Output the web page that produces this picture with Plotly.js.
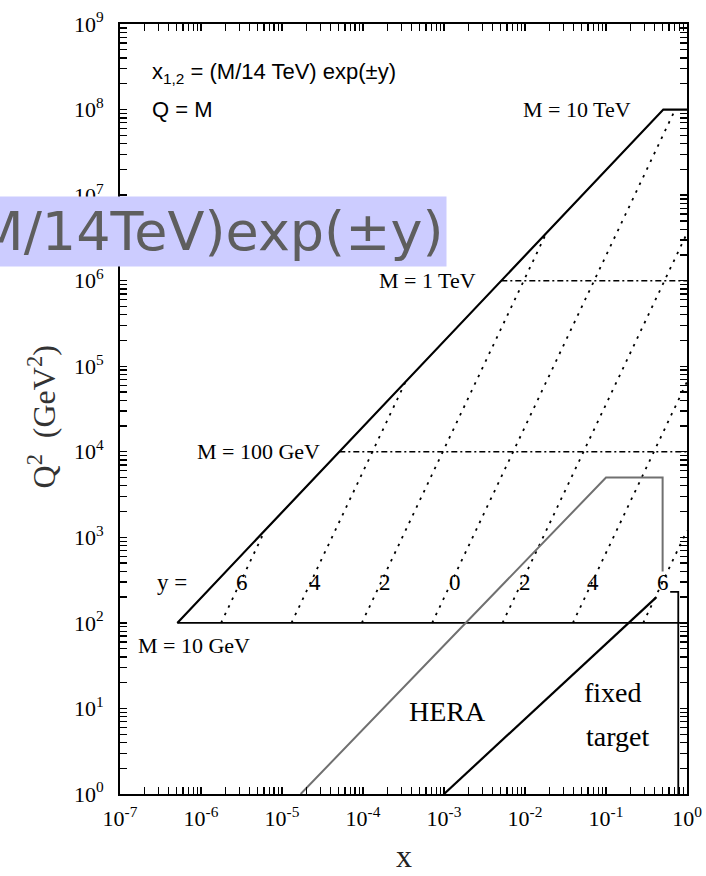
<!DOCTYPE html>
<html>
<head>
<meta charset="utf-8">
<script src="https://cdn.plot.ly/plotly-3.0.1.min.js"></script>
<style>html,body{margin:0;padding:0;background:#fff;}</style>
</head>
<body>
<div id="chart" style="width:706px;height:876px;"></div>
<script>
// LHC parton kinematics: x1,2 = (M/14 TeV) exp(±y), Q = M

// axis decades (powers of ten)
const xTickPowers = [-7, -6, -5, -4, -3, -2, -1, 0];
const qTickPowers = [0, 1, 2, 3, 4, 5, 6, 7, 8, 9];
// minor tick mantissas inside each decade
const minorMantissas = [2, 3, 4, 5, 6, 7, 8, 9];

// kinematic limit x = M^2/s, capped at M = 10 TeV
const limitX  = [5.1e-7, 0.51, 1];
const limitQ2 = [1e2, 1e8, 1e8];

// M = 10 GeV floor
const floorX  = [5.1e-7, 1];
const floorQ2 = [1e2, 1e2];

// dash-dot lines of constant mass (M = 100 GeV, M = 1 TeV)
const massQ2     = [1e4, 1e6];
const massStartX = [5.1e-5, 5.1e-3];
const massEndX   = [1, 1];

// lines of constant rapidity, from M = 10 GeV up to the kinematic edge
const rapidityLabels = ['6', '4', '2', '0', '2', '4', '6'];
const rapStartX  = [1.77e-6, 1.31e-5, 9.67e-5, 7.14e-4, 5.28e-3, 3.9e-2, 0.288];
const rapStartQ2 = [1e2, 1e2, 1e2, 1e2, 1e2, 1e2, 1e2];
const rapEndX    = [6.15e-6, 3.35e-4, 1.83e-2, 0.714, 1, 1, 1];
const rapEndQ2   = [1205, 6.57e4, 3.59e6, 1e8, 3.59e6, 6.57e4, 1205];

// HERA region outline (grey)
const heraX  = [1.7e-5, 0.1, 0.5, 0.5];
const heraQ2 = [1, 5000, 5000, 400];

// fixed-target region
const fixedX  = [1e-3, 0.42];
const fixedQ2 = [1, 200];
const fixedEdgeX  = [0.62, 0.78, 0.78];
const fixedEdgeQ2 = [230, 230, 1];

const serif = '"Liberation Serif", "Times New Roman", serif';
const sans = '"Liberation Sans", Arial, sans-serif';

function line(x, y, color, width, dash) {
  return {
    type: 'scatter', mode: 'lines', x: x, y: y,
    line: {color: color, width: width, dash: dash || 'solid'},
    hoverinfo: 'skip', showlegend: false
  };
}

const traces = [];
rapStartX.forEach((x0, i) => {
  traces.push(line([x0, rapEndX[i]], [rapStartQ2[i], rapEndQ2[i]], '#000', 1.8, '2.5px,6px'));
});
massQ2.forEach((q, i) => {
  traces.push(line([massStartX[i], massEndX[i]], [q, q], '#000', 1.5, '6px,3px,2px,3px'));
});
traces.push(line(floorX, floorQ2, '#000', 1.6));
traces.push(line(limitX, limitQ2, '#000', 2.2));
traces.push(line(heraX, heraQ2, '#707070', 2));
traces.push(line(fixedX, fixedQ2, '#000', 2.2));
traces.push(line(fixedEdgeX, fixedEdgeQ2, '#000', 1.8));

function label(text, x, y, xanchor, size) {
  return {
    text: text, x: x, y: y, xref: 'x', yref: 'y',
    xanchor: xanchor || 'center', yanchor: 'middle', showarrow: false,
    font: {family: serif, size: size || 22, color: '#000'}
  };
}

const rapLabelX = [-5.49, -4.59, -3.73, -2.86, -2.0, -1.16, -0.30];
const annotations = [
  label('M = 10 TeV', -0.667, 8, 'right'),
  label('M = 1 TeV', -2.58, 6, 'right'),
  label('M = 100 GeV', -4.51, 4, 'right'),
  label('M = 10 GeV', -6.80, 1.74, 'left'),
  label('y =', -6.36, 2.47, 'center', 23),
  label('HERA', -2.96, 0.97, 'center', 28),
  label('fixed', -0.914, 1.19, 'center', 28),
  label('target', -0.852, 0.67, 'center', 28),
  {
    text: 'x<sub>1,2</sub> = (M/14 TeV) exp(±y)', x: -6.63, y: 8.43, xref: 'x', yref: 'y',
    xanchor: 'left', yanchor: 'middle', showarrow: false,
    font: {family: sans, size: 22, color: '#000'}
  },
  {
    text: 'Q = M', x: -6.63, y: 8.0, xref: 'x', yref: 'y',
    xanchor: 'left', yanchor: 'middle', showarrow: false,
    font: {family: sans, size: 22, color: '#000'}
  },
  {
    text: 'Q<sup>2</sup>\u00a0\u00a0(GeV<sup>2</sup>)', x: -0.138, y: 0.49, xref: 'paper', yref: 'paper',
    xanchor: 'center', yanchor: 'middle', textangle: -90, showarrow: false,
    font: {family: serif, size: 32, color: '#333'}
  },
  {
    text: 'x', x: 0.5, y: -0.08, xref: 'paper', yref: 'paper',
    xanchor: 'center', yanchor: 'middle', showarrow: false,
    font: {family: serif, size: 32, color: '#222'}
  },
  {
    text: '(M/14TeV)exp(±y)', x: 0.5767, y: 0.731, xref: 'paper', yref: 'paper',
    xanchor: 'right', yanchor: 'middle', showarrow: false,
    bgcolor: '#ccccff', borderpad: 3,
    font: {family: '"DejaVu Sans", sans-serif', size: 54, color: '#5e5e5e'}
  }
];
rapidityLabels.forEach((t, i) => annotations.push(label(t, rapLabelX[i], 2.47, 'center', 23)));

// log axis with a tick at every 1..9 step of each decade, labels only at the decades
function logAxis(powers) {
  const vals = [], text = [];
  powers.forEach((p, k) => {
    vals.push(Math.pow(10, p));
    text.push('10<sup>' + p + '</sup>');
    if (k < powers.length - 1) {
      minorMantissas.forEach(m => { vals.push(m * Math.pow(10, p)); text.push(''); });
    }
  });
  return {
    type: 'log',
    range: [powers[0], powers[powers.length - 1]],
    tickmode: 'array', tickvals: vals, ticktext: text,
    ticks: 'inside', ticklen: 7, tickwidth: 1.3, tickcolor: '#000',
    showline: true, linewidth: 2, linecolor: '#000', mirror: 'allticks',
    showgrid: false, zeroline: false,
    tickfont: {family: serif, size: 22, color: '#000'}
  };
}

const xaxis = logAxis(xTickPowers);
xaxis.ticklabelstandoff = 4;
const yaxis = logAxis(qTickPowers);
yaxis.ticklabelstandoff = 10;

const layout = {
  width: 706, height: 876,
  margin: {l: 120, r: 19, t: 24, b: 82},
  paper_bgcolor: '#fff', plot_bgcolor: '#fff',
  showlegend: false,
  xaxis: xaxis, yaxis: yaxis,
  annotations: annotations
};

Plotly.newPlot('chart', traces, layout, {displayModeBar: false, staticPlot: true});
</script>
</body>
</html>
